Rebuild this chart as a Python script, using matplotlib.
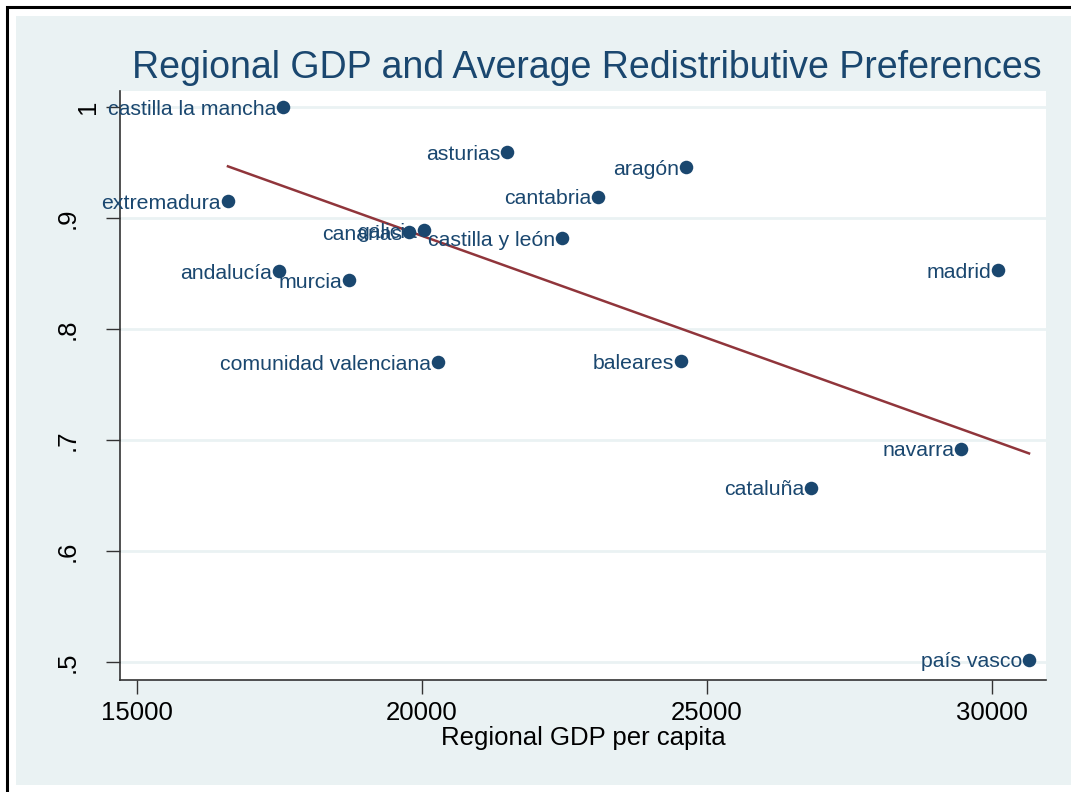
import matplotlib
matplotlib.use('Agg')
import matplotlib.pyplot as plt
import matplotlib.patches as mpatches
import matplotlib.transforms as mtransforms
import numpy as np

plt.rcParams['font.family'] = ['Liberation Sans', 'DejaVu Sans']

regions = ['castilla la mancha', 'asturias', 'aragón', 'cantabria', 'extremadura',
           'galicia', 'canarias', 'castilla y león', 'andalucía', 'murcia', 'madrid',
           'comunidad valenciana', 'baleares', 'navarra', 'cataluña', 'país vasco']
gdp = [17561, 21491, 24632, 23088, 16596,
       20035, 19772, 22456, 17491, 18719, 30105,
       20281, 24544, 29456, 26825, 30649]
redist = [1.000, 0.959, 0.946, 0.919, 0.915,
          0.889, 0.887, 0.882, 0.852, 0.844, 0.853,
          0.770, 0.771, 0.692, 0.657, 0.502]
yticks = [0.5, 0.6, 0.7, 0.8, 0.9, 1.0]
ytick_labels = ['.5', '.6', '.7', '.8', '.9', '1']

navy = '#1a476f'
maroon = '#90353b'
bg = '#eaf2f3'

fig = plt.figure(figsize=(10.71, 7.92), dpi=100)
fig.patch.set_facecolor('white')
# outer frame and graph region
fig.patches.append(mpatches.Rectangle((7 / 1071, -0.1), 1.2, 1 - 7 / 792 + 0.1,
                                      transform=fig.transFigure, facecolor='white',
                                      edgecolor='black', linewidth=2.2, zorder=-2))
fig.patches.append(mpatches.Rectangle((16 / 1071, 1 - 785 / 792), 1.1, (785 - 16) / 792,
                                      transform=fig.transFigure, facecolor=bg,
                                      edgecolor='none', zorder=-1))

ax = fig.add_axes([120 / 1071, 1 - 680 / 792, (1046 - 120) / 1071, (680 - 91) / 792])
ax.set_facecolor('white')
ax.set_xlim(14702, 30947)
ax.set_ylim(0.4838, 1.0144)

ax.scatter(gdp, redist, s=95, color=navy, zorder=3, linewidths=0)
for name, x, y in zip(regions, gdp, redist):
    ax.annotate(name, (x, y), xytext=(-5, -1.5), textcoords='offset points',
                ha='right', va='center', fontsize=15.3, color=navy, zorder=4,
                annotation_clip=False)

# linear fit
slope, intercept = np.polyfit(gdp, redist, 1)
xs = np.array([min(gdp), max(gdp)])
ax.plot(xs, intercept + slope * xs, color=maroon, linewidth=1.8, zorder=2)

ax.set_xticks([15000, 20000, 25000, 30000])
ax.set_yticks(yticks)
ax.set_yticklabels(ytick_labels, rotation=90, va='center')
ax.tick_params(axis='both', direction='out', length=10, width=1, color='#333333',
               labelsize=18.5, labelcolor='black')
ax.tick_params(axis='y', pad=19)
ax.tick_params(axis='x', pad=5)
# the single-digit "1" label sits closer to the axis
lab = ax.get_yticklabels()[-1]
lab.set_transform(lab.get_transform() +
                  mtransforms.ScaledTranslation(0.2, 0, fig.dpi_scale_trans))
ax.grid(axis='y', color=bg, linewidth=2)
ax.set_axisbelow(True)
for side in ['top', 'right']:
    ax.spines[side].set_visible(False)
for side in ['left', 'bottom']:
    ax.spines[side].set_color('#333333')
    ax.spines[side].set_linewidth(1.2)

ax.set_xlabel('Regional GDP per capita', fontsize=18.5, labelpad=1)
fig.text(586.5 / 1071, 1 - 68 / 792, 'Regional GDP and Average Redistributive Preferences',
         ha='center', va='center', fontsize=27, color=navy)

plt.savefig('out.png', dpi=100)
plt.close()
